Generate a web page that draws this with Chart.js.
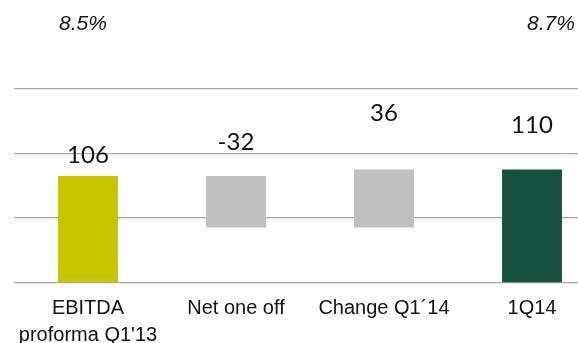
<!DOCTYPE html>
<html>
<head>
<meta charset="utf-8">
<script src="https://cdn.jsdelivr.net/npm/chart.js@4"></script>
<style>
    html, body { margin: 0; padding: 0; background: #fff; overflow: hidden; }
    #wrap { width: 620px; height: 343px; }
</style>
</head>
<body>
<div id="wrap"><canvas id="ebitdaBridge"></canvas></div>
<script>
// Bridge categories and the values printed on each bar
const categories = [["EBITDA", "proforma Q1'13"], "Net one off", "Change Q1´14", "1Q14"];
const barValues = [106, -32, 36, 110];
const isTotal = [true, false, false, true];
// EBITDA margin shown above the two totals
const margins = ["8.5%", "", "", "8.7%"];
// value axis gridlines
const yTicks = [40, 80, 120, 160];

const barColors = ["#c6c500", "#bfbfbf", "#bfbfbf", "#155240"];
const labelLift = [13, 26, 49, 37];
const marginShift = [-5, 0, 0, 19];

// floating bars: totals start at zero, steps start at the running total
let running = 0;
const bridge = barValues.map(function (v, i) {
    if (isTotal[i]) {
        running = v;
        return [0, v];
    }
    const from = running;
    running += v;
    return [from, running];
});

const barLabels = {
    id: "barLabels",
    afterDatasetsDraw(chart) {
        const ctx = chart.ctx;
        const meta = chart.getDatasetMeta(0);
        const y = chart.scales.y;
        ctx.save();
        ctx.fillStyle = "#111";
        ctx.textAlign = "center";
        ctx.textBaseline = "alphabetic";
        ctx.font = "24px Lato";
        meta.data.forEach(function (bar, i) {
            const top = y.getPixelForValue(Math.max(bridge[i][0], bridge[i][1]));
            ctx.fillText(String(barValues[i]), bar.x, top - labelLift[i]);
        });
        ctx.font = "italic 21px 'Liberation Sans', Arial, sans-serif";
        meta.data.forEach(function (bar, i) {
            if (margins[i]) ctx.fillText(margins[i], bar.x + marginShift[i], 29.5);
        });
        ctx.restore();
    }
};

new Chart(document.getElementById("ebitdaBridge"), {
    type: "bar",
    data: {
        labels: categories,
        datasets: [
        {
            data: bridge,
            backgroundColor: barColors,
            borderWidth: 0,
            categoryPercentage: 1,
            barPercentage: 0.405,
        },
        ],
    },
    options: {
        responsive: true,
        maintainAspectRatio: false,
        animation: false,
        layout: { padding: { top: 89, left: 14, right: 14, bottom: 0 } },
        plugins: {
            legend: { display: false },
            tooltip: { enabled: false },
        },
        scales: {
            x: {
                grid: { display: false, drawTicks: false },
                border: { display: false },
                ticks: {
                    padding: 13,
                    color: "#111",
                    maxRotation: 0,
                    autoSkip: false,
                    font: { family: "'Liberation Sans', Arial, sans-serif", size: 20, lineHeight: 1.35 },
                },
                afterFit: function (s) { s.height = 60.7; },
            },
            y: {
                min: yTicks[0],
                max: yTicks[yTicks.length - 1],
                afterBuildTicks: function (s) { s.ticks = yTicks.map(function (v) { return { value: v }; }); },
                grid: { color: "#a9a9a9", lineWidth: 1.3, drawTicks: false },
                border: { display: false },
                ticks: { display: false },
                afterFit: function (s) { s.width = 0; },
            },
        },
    },
    plugins: [barLabels],
});
</script>
</body>
</html>
